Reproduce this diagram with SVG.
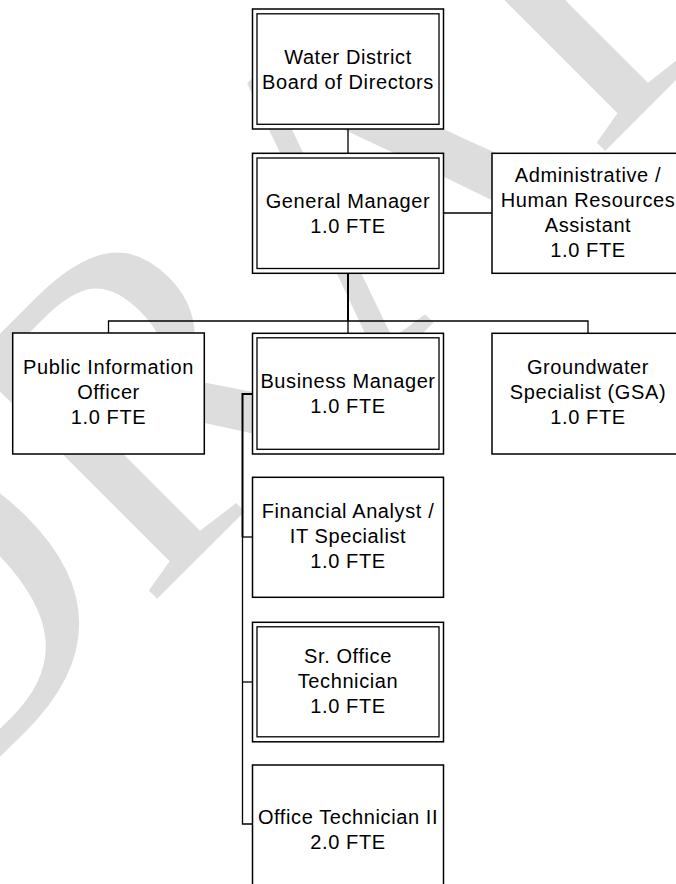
<svg xmlns="http://www.w3.org/2000/svg" width="676" height="884" viewBox="0 0 676 884">
  <style>
    .bg { fill: #ffffff; }
    .wm { fill: #dddddd; font-family: "Liberation Serif", "Times New Roman", serif; }
    .box { fill: #ffffff; stroke: #000000; stroke-width: 1.5; }
    .inner { fill: none; stroke: #000000; stroke-width: 1.3; }
    .lbl { fill: #000000; font-family: "Liberation Sans", Arial, sans-serif; font-size: 20px; letter-spacing: 0.6px; text-anchor: middle; }
    .ln { fill: none; stroke: #000000; stroke-width: 1.3; }
    .ln2 { fill: none; stroke: #000000; stroke-width: 2; }
  </style>

  <rect class="bg" x="0" y="0" width="676" height="884"/>

  <!-- watermark -->
  <g id="watermark">
    <text class="wm" font-size="456" transform="translate(-87 843) rotate(-45)">DRAFT</text>
  </g>

  <!-- connectors -->
  <g id="connectors">
    <path class="ln" d="M348 129 V153"/>
    <path class="ln" d="M444 213 H492"/>
    <path class="ln2" d="M348 273 V321"/>
    <path class="ln" d="M108.5 333 V321 H588 V333"/>
    <path class="ln" d="M348 321 V333"/>
    <path class="ln2" d="M252 394 H242.5 V537"/>
    <path class="ln" d="M242.5 537 V824 H252"/>
    <path class="ln" d="M242.5 537 H252"/>
    <path class="ln" d="M242.5 682 H252"/>
  </g>

  <!-- Water District Board of Directors -->
  <g id="board">
    <rect class="box" x="252.5" y="9" width="191" height="120"/>
    <rect class="inner" x="257" y="13.8" width="182" height="110.5"/>
    <text class="lbl" x="348" y="63.5">Water District</text>
    <text class="lbl" x="348" y="88.5">Board of Directors</text>
  </g>

  <!-- General Manager -->
  <g id="general-manager">
    <rect class="box" x="252.5" y="153.3" width="191" height="120"/>
    <rect class="inner" x="257" y="158" width="182" height="110.5"/>
    <text class="lbl" x="348" y="207.5">General Manager</text>
    <text class="lbl" x="348" y="232.5">1.0 FTE</text>
  </g>

  <!-- Administrative / Human Resources Assistant -->
  <g id="admin-hr-assistant">
    <rect class="box" x="492" y="153.3" width="192" height="120"/>
    <text class="lbl" x="588" y="182">Administrative /</text>
    <text class="lbl" x="588" y="207">Human Resources</text>
    <text class="lbl" x="588" y="232">Assistant</text>
    <text class="lbl" x="588" y="257">1.0 FTE</text>
  </g>

  <!-- Public Information Officer -->
  <g id="public-information-officer">
    <rect class="box" x="12.7" y="333" width="191.6" height="121"/>
    <text class="lbl" x="108.5" y="374">Public Information</text>
    <text class="lbl" x="108.5" y="399">Officer</text>
    <text class="lbl" x="108.5" y="424">1.0 FTE</text>
  </g>

  <!-- Business Manager -->
  <g id="business-manager">
    <rect class="box" x="252.5" y="333.3" width="191" height="120.7"/>
    <rect class="inner" x="257" y="337.8" width="182" height="111.5"/>
    <text class="lbl" x="348" y="388">Business Manager</text>
    <text class="lbl" x="348" y="413">1.0 FTE</text>
  </g>

  <!-- Groundwater Specialist (GSA) -->
  <g id="groundwater-specialist">
    <rect class="box" x="492" y="333.3" width="192" height="120.7"/>
    <text class="lbl" x="588" y="374">Groundwater</text>
    <text class="lbl" x="588" y="399">Specialist (GSA)</text>
    <text class="lbl" x="588" y="424">1.0 FTE</text>
  </g>

  <!-- Financial Analyst / IT Specialist -->
  <g id="financial-analyst">
    <rect class="box" x="252.5" y="477.3" width="191" height="120"/>
    <text class="lbl" x="348" y="517.5">Financial Analyst /</text>
    <text class="lbl" x="348" y="542.5">IT Specialist</text>
    <text class="lbl" x="348" y="567.5">1.0 FTE</text>
  </g>

  <!-- Sr. Office Technician -->
  <g id="sr-office-technician">
    <rect class="box" x="252.5" y="622.3" width="191" height="119.5"/>
    <rect class="inner" x="257" y="626.8" width="182" height="110"/>
    <text class="lbl" x="348" y="662.5">Sr. Office</text>
    <text class="lbl" x="348" y="687.5">Technician</text>
    <text class="lbl" x="348" y="712.5">1.0 FTE</text>
  </g>

  <!-- Office Technician II -->
  <g id="office-technician-2">
    <rect class="box" x="252.5" y="765" width="191" height="130"/>
    <text class="lbl" x="348" y="824">Office Technician II</text>
    <text class="lbl" x="348" y="849">2.0 FTE</text>
  </g>
</svg>
